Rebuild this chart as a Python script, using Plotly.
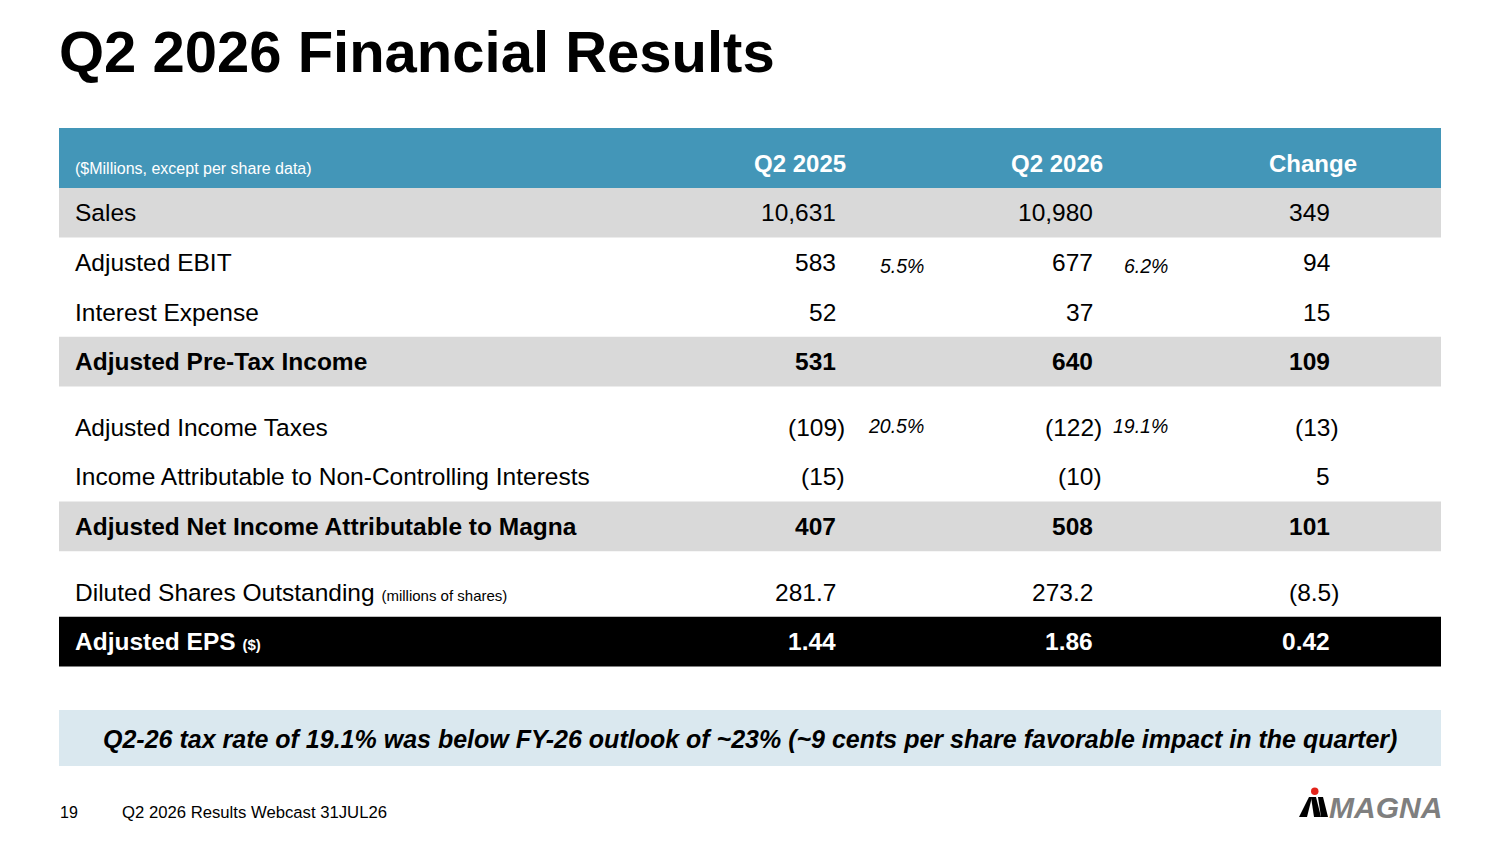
import plotly.graph_objects as go

# table content
labels = ["Sales", "Adjusted EBIT", "Interest Expense", "Adjusted Pre-Tax Income",
          "Adjusted Income Taxes", "Income Attributable to Non-Controlling Interests",
          "Adjusted Net Income Attributable to Magna", "Diluted Shares Outstanding",
          "Adjusted EPS"]
label_notes = ["", "", "", "", "", "", "", "(millions of shares)", "($)"]
q2_2025 = ["10,631", "583", "52", "531", "(109)", "(15)", "407", "281.7", "1.44"]
q2_2026 = ["10,980", "677", "37", "640", "(122)", "(10)", "508", "273.2", "1.86"]
change = ["349", "94", "15", "109", "(13)", "5", "101", "(8.5)", "0.42"]
rate_2025 = ["", "5.5%", "", "", "20.5%", "", "", "", ""]
rate_2026 = ["", "6.2%", "", "", "19.1%", "", "", "", ""]
row_fill = ["gray", "plain", "plain", "gray", "plain", "plain", "gray", "plain", "black"]
row_bold = [False, False, False, True, False, False, True, False, True]
headers = ["Q2 2025", "Q2 2026", "Change"]
unit_note = "($Millions, except per share data)"
title = "Q2 2026 Financial Results"
footnote = "Q2-26 tax rate of 19.1% was below FY-26 outlook of ~23% (~9 cents per share favorable impact in the quarter)"
page_no = "19"
footer = "Q2 2026 Results Webcast 31JUL26"

FONT = "Liberation Sans, Arial, sans-serif"
TEAL = "#4396B8"
GRAY = "#D9D9D9"
NOTE_BG = "#DAE8EF"

W, H = 1500, 844
left, right = 59, 1441
head_top, head_bot = 128, 188
row_h, gap = 49.6, 16
gaps_after = {3, 6}
col_right = [838, 1095, 1332]
head_x = [800, 1057, 1313]
rate_right = [926, 1170]

fig = go.Figure()
shapes, ann = [], []


def text(x, y, s, size, color="black", bold=False, italic=False, anchor="left"):
    ann.append(dict(x=x, y=y, xref="x", yref="y", text=s, showarrow=False,
                    xanchor=anchor, yanchor="middle",
                    font=dict(family=FONT, size=size, color=color,
                              weight="bold" if bold else "normal",
                              style="italic" if italic else "normal")))


# title
text(57, 51, title, 58, bold=True)

# header band
shapes.append(dict(type="rect", x0=left, x1=right, y0=head_top, y1=head_bot,
                   fillcolor=TEAL, line_width=0, layer="below"))
text(73, 168, unit_note, 16, color="white")
for hx, h in zip(head_x, headers):
    text(hx, 163, h, 24, color="white", bold=True, anchor="center")

# rows
y = head_bot
for i, lab in enumerate(labels):
    y0, y1 = y, y + row_h
    yc = (y0 + y1) / 2
    kind = row_fill[i]
    if kind != "plain":
        shapes.append(dict(type="rect", x0=left, x1=right, y0=y0, y1=y1,
                           fillcolor=GRAY if kind == "gray" else "black",
                           line_width=0, layer="below"))
    bold = row_bold[i]
    color = "white" if kind == "black" else "black"
    s = lab
    if label_notes[i]:
        s += " <span style='font-size:15px'>" + label_notes[i] + "</span>"
    text(73, yc, s, 24.5, color=color, bold=bold)
    for cx, vals in zip(col_right, [q2_2025, q2_2026, change]):
        v = vals[i]
        xr = cx + 9 if v.endswith(")") else cx
        text(xr, yc, v, 24.5, color=color, bold=bold, anchor="right")
    for rx, vals in zip(rate_right, [rate_2025, rate_2026]):
        if vals[i]:
            dy = 4 if i == 1 else -1
            text(rx, yc + dy, vals[i], 19.5, italic=True, anchor="right")
    y = y1 + (gap if i in gaps_after else 0)

# footnote box
shapes.append(dict(type="rect", x0=left, x1=right, y0=710, y1=766,
                   fillcolor=NOTE_BG, line_width=0, layer="below"))
text((left + right) / 2, 739, footnote, 25, bold=True, italic=True, anchor="center")

# footer
text(58, 812, page_no, 16)
text(120, 812, footer, 16.7)

# logo
for path in ["M1299,817 L1307,817 L1312,797 L1309,797 Z",
             "M1311,797 L1316,797 L1321,817 L1314,817 Z",
             "M1318,797 L1323,797 L1328,817 L1321,817 Z"]:
    shapes.append(dict(type="path", path=path, xref="x", yref="y",
                       fillcolor="black", line_width=0))
shapes.append(dict(type="circle", x0=1311, x1=1318.5, y0=787.5, y1=795,
                   fillcolor="#E2231A", line_width=0))
text(1444, 807, "MAGNA", 30, color="#7F7F7F", bold=True, italic=True, anchor="right")

fig.update_layout(
    width=W, height=H,
    margin=dict(l=0, r=0, t=0, b=0),
    plot_bgcolor="white", paper_bgcolor="white",
    shapes=shapes, annotations=ann,
    showlegend=False,
)
fig.update_xaxes(range=[0, W], visible=False, fixedrange=True)
fig.update_yaxes(range=[H, 0], visible=False, fixedrange=True)

fig.write_html("out.html", config={"displayModeBar": False},
               post_script="document.body.style.margin='0';")
